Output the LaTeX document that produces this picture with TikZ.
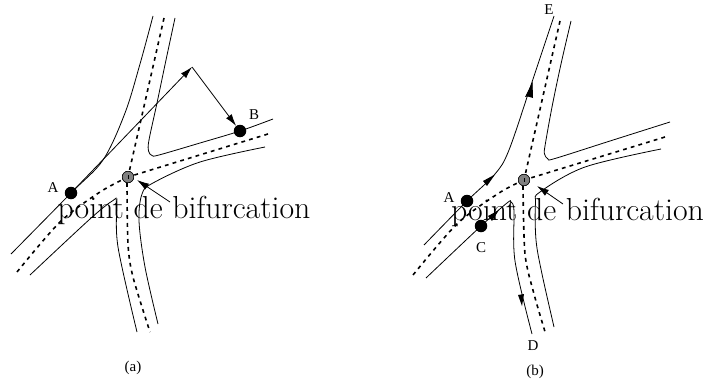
\documentclass[tikz,border=0pt]{standalone}
\usepackage{fontspec}
\newfontfamily\smallserif{Liberation Serif}
\usetikzlibrary{arrows.meta}
\tikzset{
  road/.style={line width=0.8pt,smooth,tension=0.55},
  centre/.style={line width=1.6pt,dash pattern=on 3.8pt off 4.2pt},
  dotnode/.style={circle,fill=black,draw=none,minimum size=12.5pt,inner sep=0pt},
  junction/.style={circle,fill=black!50,draw=black,line width=0.5pt,minimum size=11.5pt,inner sep=0pt},
  tag/.style={font=\smallserif\fontsize{15}{16}\selectfont,inner sep=0pt},
  big/.style={font=\fontsize{31.8}{34}\selectfont,inner sep=0pt,anchor=base},
  arr/.style={line width=0.8pt,-{Latex[length=12pt,width=7pt]}},
  headfill/.style={fill=black,draw=none}
}
\begin{document}
\begin{tikzpicture}[x=1pt,y=-1pt]
\useasboundingbox (0,0) rectangle (704,388);
% panel (a)
\node[junction] (ja) at (128,177) {};
\node[dotnode] (pA) at (71,193) {};
\node[dotnode] (pB) at (240,131) {};
\coordinate (apex) at (192,67);
\draw[road] plot coordinates {(153,16) (140,64) (125,113) (103,160) (71,193) (11,254)};
\draw[road] plot coordinates {(175,18) (166,60) (157,103) (149,140) (148.5,151) (152,155.5) (159,155) (200,143) (240,131) (273,119)};
\draw[road] plot coordinates {(265,147) (200,162) (153,183) (142,194) (139,221) (145,267) (158,324)};
\draw[road] plot coordinates {(30,275) (90,219) (113,200.5) (116.5,203) (118,247) (137,332)};
\draw[centre] (164,18) -- (128,177);
\draw[centre] plot[smooth,tension=0.5] coordinates {(127,183) (128,244) (133,277) (150,332)};
\draw[centre] (268,134) -- (128,177);
\draw[centre] plot[smooth,tension=0.5] coordinates {(128,177) (100,192) (60,222) (17,272)};
\draw[arr] (pA) -- (apex);
\draw[arr] (apex) -- (pB);
\node[junction] at (ja) {};
\draw[line width=1pt] (128,175) -- (128,179);
\coordinate (pa1) at (170,202);
\draw[arr] (pa1) -- ([shift={(9,3)}]ja.center);
\node[tag] (la) at (53,188) {A};
\node[tag] (lb) at (254,115) {B};
\node[tag] (capa) at (133,368) {(a)};
\node[big] (pta) at (184,218.5) {point de bifurcation};
% panel (b)
\node[junction] (jb) at (524,180) {};
\node[dotnode] (qA) at (467,201) {};
\node[dotnode] (qC) at (481,226) {};
\coordinate (qE) at (554,16);
\coordinate (qD) at (532,334);
\draw[road] plot coordinates {(qE) (532,82) (509,150) (495,174) (467,201) (424,245)};
\draw[road] plot coordinates {(571,21) (561,64) (552,107) (545,146) (544.5,154) (548,159) (555,158.5) (610,141) (670,122)};
\draw[road] plot coordinates {(661,149) (585,167) (540,192) (535.5,203) (536,240) (542,274) (554,327)};
\draw[road] plot coordinates {(426,278) (qC) (507,203) (511,202) (514,211) (515,261) (qD)};
\draw[centre] (560,21) -- (jb);
\draw[centre] plot[smooth,tension=0.5] coordinates {(523,186) (525,254) (534,294) (546,335)};
\draw[centre] (665,137) -- (jb);
\draw[centre] plot[smooth,tension=0.5] coordinates {(524,180) (499,193) (457,224) (413,275)};
\fill[headfill] (532.5,82) -- (525,97) -- (532,95) -- cycle;
\fill[headfill] (532.5,82) -- (526,96) -- (533,98) -- cycle;
\fill[headfill] (495,174.5) -- (483,181) -- (487,186) -- cycle;
\fill[headfill] (499,210) -- (488,216) -- (492,221) -- cycle;
\fill[headfill] (522,306) -- (518,295) -- (524,294) -- cycle;
\node[junction] at (jb) {};
\draw[line width=1pt] (524,178) -- (524,182);
\coordinate (pb1) at (563,204);
\draw[arr] (pb1) -- ([shift={(13,6)}]jb.center);
\node[tag] (le) at (549,10) {E};
\node[tag] (lA) at (449,198) {A};
\node[tag] (lc) at (481,248) {C};
\node[tag] (ld) at (533,346) {D};
\node[tag] (capb) at (535,372) {(b)};
\node[big] (ptb) at (577.5,220.5) {point de bifurcation};
\end{tikzpicture}
\end{document}
